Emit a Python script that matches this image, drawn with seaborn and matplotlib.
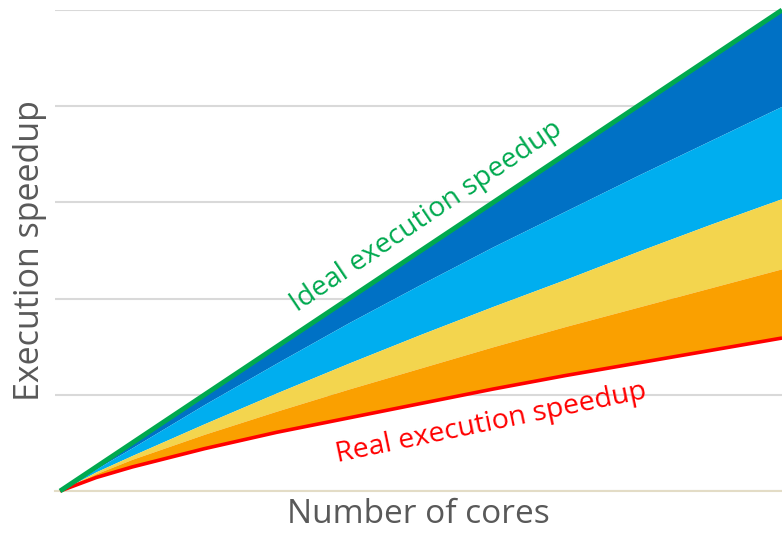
import matplotlib
matplotlib.use("Agg")
import matplotlib.pyplot as plt
import seaborn as sns
import pandas as pd

# data
cores = [0, 5, 10, 20, 30, 40, 50, 60, 70, 80, 90, 100]
ideal = [0, 0.25, 0.50, 1.00, 1.50, 2.00, 2.50, 3.00, 3.50, 4.00, 4.50, 5.00]
dark_blue_low = [0, 0.23, 0.45, 0.90, 1.33, 1.75, 2.15, 2.54, 2.91, 3.28, 3.64, 4.00]
light_blue_low = [0, 0.20, 0.37, 0.70, 1.02, 1.33, 1.63, 1.92, 2.20, 2.49, 2.77, 3.04]
yellow_low = [0, 0.18, 0.33, 0.59, 0.83, 1.06, 1.28, 1.50, 1.71, 1.91, 2.11, 2.31]
real = [0, 0.14, 0.25, 0.44, 0.61, 0.76, 0.91, 1.06, 1.20, 1.33, 1.46, 1.59]

y_ticks = [0, 1, 2, 3, 4, 5]
x_label = "Number of cores"
y_label = "Execution speedup"
ideal_label = "Ideal execution speedup"
real_label = "Real execution speedup"

df = pd.DataFrame({"cores": cores, "ideal": ideal, "real": real})

sns.set_theme(style="white")
plt.rcParams["font.family"] = ["Open Sans", "DejaVu Sans"]

fig = plt.figure(figsize=(7.82, 5.35), dpi=100)
ax = fig.add_axes([55 / 782, 1 - 491 / 535, 1 - 55 / 782, (491 - 10) / 535])

c_dark = "#0071C5"
c_light = "#00AEEF"
c_yellow = "#F3D54E"
c_orange = "#FAA000"

ax.fill_between(cores, dark_blue_low, ideal, color=c_dark, lw=0, zorder=2)
ax.fill_between(cores, light_blue_low, dark_blue_low, color=c_light, lw=0, zorder=2)
ax.fill_between(cores, yellow_low, light_blue_low, color=c_yellow, lw=0, zorder=2)
ax.fill_between(cores, real, yellow_low, color=c_orange, lw=0, zorder=2)

sns.lineplot(data=df, x="cores", y="real", ax=ax, color="#FF0000", lw=2.6, zorder=3)
sns.lineplot(data=df, x="cores", y="ideal", ax=ax, color="#00A94F", lw=3.5, zorder=4)
for line in ax.get_lines():
    line.set_clip_on(False)
    line.set_solid_capstyle("butt")
    line.set_solid_joinstyle("round")

ax.set_xlim(-0.7, 100)
ax.set_ylim(0, 5)
ax.set_yticks(y_ticks)
ax.set_xticks([])
ax.tick_params(left=False, labelleft=False, bottom=False, labelbottom=False)
ax.grid(axis="y", color="#D9D9D9", lw=1.5, zorder=0)
ax.set_axisbelow(True)
for s in ["top", "right", "left"]:
    ax.spines[s].set_visible(False)
ax.spines["bottom"].set_color("#E3DCC6")
ax.spines["bottom"].set_linewidth(1.5)

ax.set_xlabel(x_label, fontsize=24, color="#595959", labelpad=5)
ax.set_ylabel(y_label, fontsize=24.5, color="#595959", labelpad=6)

ax.text(50.8, 2.85, ideal_label, rotation=34, rotation_mode="anchor",
        ha="center", va="center", fontsize=20.3, color="#00A94F")
ax.text(59.7, 0.70, real_label, rotation=11.7, rotation_mode="anchor",
        ha="center", va="center", fontsize=20.5, color="#FF0000")

fig.savefig("out.png", dpi=100)
